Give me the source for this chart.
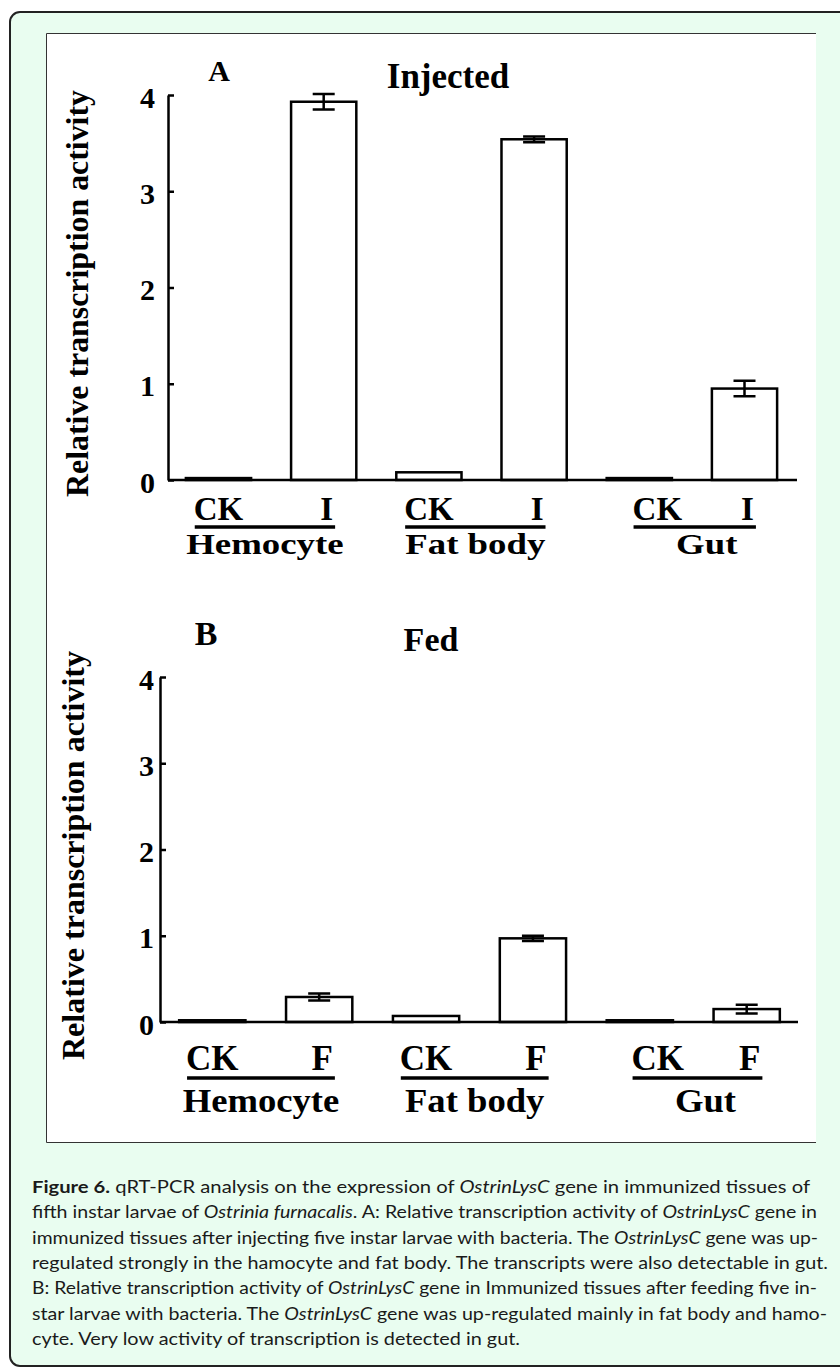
<!DOCTYPE html>
<html>
<head>
<meta charset="utf-8">
<script src="https://cdn.jsdelivr.net/npm/d3@7"></script>
<style>
  body { margin: 0; background: #fff; }
  svg { display: block; }
</style>
</head>
<body>
<div id="chart"></div>
<script>
// data
const tissues = ['Hemocyte', 'Fat body', 'Gut']
const injectedConditions = ['CK', 'I']
const fedConditions = ['CK', 'F']
const injectedValues = [0.02, 3.93, 0.08, 3.54, 0.02, 0.95]
const injectedErrors = [0, 0.08, 0, 0.03, 0, 0.08]
const fedValues = [0.02, 0.29, 0.07, 0.97, 0.02, 0.15]
const fedErrors = [0, 0.04, 0, 0.03, 0, 0.05]
const yTicks = [0, 1, 2, 3, 4]
const yLabel = 'Relative transcription activity'

const captionLines = [
  [['b', 'Figure 6.'], ['', ' qRT-PCR analysis on the expression of '], ['i', 'OstrinLysC'], ['', ' gene in immunized tissues of']],
  [['', 'fifth instar larvae of '], ['i', 'Ostrinia furnacalis'], ['', '. A: Relative transcription activity of '], ['i', 'OstrinLysC'], ['', ' gene in']],
  [['', 'immunized tissues after injecting five instar larvae with bacteria. The '], ['i', 'OstrinLysC'], ['', ' gene was up-']],
  [['', 'regulated strongly in the hamocyte and fat body. The transcripts were also detectable in gut.']],
  [['', 'B: Relative transcription activity of '], ['i', 'OstrinLysC'], ['', ' gene in Immunized tissues after feeding five in-']],
  [['', 'star larvae with bacteria. The '], ['i', 'OstrinLysC'], ['', ' gene was up-regulated mainly in fat body and hamo-']],
  [['', 'cyte. Very low activity of transcription is detected in gut.']]
]
const captionEnds = [810, 817, 818, 828, 817, 827, 520]

const serif = '"Liberation Serif", "Times New Roman", serif'

const svg = d3
  .select('#chart')
  .append('svg')
  .attr('width', 840)
  .attr('height', 1372)

// outer rounded box
svg
  .append('rect')
  .attr('x', 10)
  .attr('y', 12)
  .attr('width', 860)
  .attr('height', 1354)
  .attr('rx', 10)
  .attr('fill', '#e9fdf0')
  .attr('stroke', '#222')
  .attr('stroke-width', 2)

// white figure area
svg
  .append('rect')
  .attr('x', 46)
  .attr('y', 33)
  .attr('width', 770)
  .attr('height', 1110)
  .attr('fill', '#fff')
svg
  .append('path')
  .attr('d', 'M816,33.5H46.5V1142.5H816')
  .attr('fill', 'none')
  .attr('stroke', '#333')
  .attr('stroke-width', 1)

const panels = [
  {
    conditions: injectedConditions,
    values: injectedValues,
    errors: injectedErrors,
    letter: 'A',
    title: 'Injected',
    axisX: 168, band: [168, 795], axisEnd: 797, top: 95, bottom: 480,
    tickPad: 13, labelY: 40, labelSize: 33, lineY: 47,
    groupY: 74, groupSize: 29, stretch: 1.27, gutShift: 12,
    yTitleX: 88, yTitleLen: 407,
    letterX: 219, letterY: 81, letterSize: 30,
    titleX: 448, titleY: 88, titleSize: 35
  },
  {
    conditions: fedConditions,
    values: fedValues,
    errors: fedErrors,
    letter: 'B',
    title: 'Fed',
    axisX: 160, band: [161, 798], axisEnd: 798, top: 677, bottom: 1022,
    tickPad: 6, labelY: 48, labelSize: 35, lineY: 56,
    groupY: 90, groupSize: 33, stretch: 1.11, gutShift: 8,
    yTitleX: 84, yTitleLen: 409,
    letterX: 206, letterY: 645, letterSize: 34,
    titleX: 431, titleY: 651, titleSize: 34
  }
]

panels.forEach(drawPanel)

function drawPanel(p) {
  const g = svg.append('g')
  const keys = d3.cross(tissues, p.conditions).map(d => d.join('|'))
  const rows = keys.map((k, i) => ({
    key: k,
    tissue: k.split('|')[0],
    cond: k.split('|')[1],
    value: p.values[i],
    error: p.errors[i]
  }))

  const x = d3
    .scaleBand()
    .domain(keys)
    .range(p.band)
    .paddingInner(0.38)
    .paddingOuter(0.17)
  const y = d3
    .scaleLinear()
    .domain([0, 4])
    .range([p.bottom, p.top])

  // bars
  g.selectAll('.bar')
    .data(rows)
    .enter()
    .append('rect')
    .attr('x', d => x(d.key))
    .attr('y', d => y(d.value))
    .attr('width', x.bandwidth())
    .attr('height', d => y(0) - y(d.value))
    .attr('fill', '#fff')
    .attr('stroke', '#000')
    .attr('stroke-width', 2.5)

  // error bars
  const errRows = rows.filter(d => d.error > 0)
  const cx = d => x(d.key) + x.bandwidth() / 2
  g.selectAll('.err')
    .data(errRows)
    .enter()
    .append('path')
    .attr('d', d => {
      const y1 = y(d.value + d.error)
      const y2 = y(d.value - d.error)
      return `M${cx(d)},${y1}V${y2}M${cx(d) - 11},${y1}H${cx(d) + 11}M${cx(d) - 11},${y2}H${cx(d) + 11}`
    })
    .attr('fill', 'none')
    .attr('stroke', '#000')
    .attr('stroke-width', 2.5)

  // y axis
  const yAxis = d3
    .axisLeft(y)
    .tickValues(yTicks)
    .tickFormat(d3.format('d'))
    .tickSizeInner(-6)
    .tickSizeOuter(0)
    .tickPadding(p.tickPad)
  const ax = g
    .append('g')
    .attr('transform', `translate(${p.axisX},0)`)
    .call(yAxis)
  ax.select('.domain').attr('stroke', '#000').attr('stroke-width', 2.5)
  ax.selectAll('.tick line').attr('stroke', '#000').attr('stroke-width', 2.5)
  ax.selectAll('.tick text')
    .attr('font-family', serif)
    .attr('font-weight', 'bold')
    .attr('font-size', 30)
    .attr('fill', '#000')
    .attr('dy', '0.4em')

  // x axis line
  g.append('line')
    .attr('x1', p.axisX)
    .attr('x2', p.axisEnd)
    .attr('y1', y(0))
    .attr('y2', y(0))
    .attr('stroke', '#000')
    .attr('stroke-width', 2.5)

  // y title
  g.append('text')
    .attr('transform', `translate(${p.yTitleX},${(p.top + p.bottom) / 2 + 6}) rotate(-90)`)
    .attr('text-anchor', 'middle')
    .attr('font-family', serif)
    .attr('font-weight', 'bold')
    .attr('font-size', 32)
    .attr('textLength', p.yTitleLen)
    .attr('lengthAdjust', 'spacingAndGlyphs')
    .text(yLabel)

  // panel letter + title
  g.append('text')
    .attr('x', p.letterX)
    .attr('y', p.letterY)
    .attr('text-anchor', 'middle')
    .attr('font-family', serif)
    .attr('font-weight', 'bold')
    .attr('font-size', p.letterSize)
    .text(p.letter)
  g.append('text')
    .attr('x', p.titleX)
    .attr('y', p.titleY)
    .attr('text-anchor', 'middle')
    .attr('font-family', serif)
    .attr('font-weight', 'bold')
    .attr('font-size', p.titleSize)
    .text(p.title)

  // condition labels, underline and tissue label
  tissues.forEach(t => {
    const sub = rows.filter(d => d.tissue === t)
    const shift = t === 'Gut' ? 18 : 0
    const labels = sub.map((d, i) =>
      g.append('text')
        .attr('x', cx(d) + (i === 0 ? shift : 3))
        .attr('y', y(0) + p.labelY)
        .attr('text-anchor', 'middle')
        .attr('font-family', serif)
        .attr('font-weight', 'bold')
        .attr('font-size', p.labelSize)
        .text(d.cond)
    )
    const b0 = labels[0].node().getBBox()
    const b1 = labels[1].node().getBBox()
    const lx0 = b0.x + 1
    const lx1 = b1.x + b1.width + 2
    g.append('line')
      .attr('x1', lx0)
      .attr('x2', lx1)
      .attr('y1', y(0) + p.lineY)
      .attr('y2', y(0) + p.lineY)
      .attr('stroke', '#000')
      .attr('stroke-width', 3.5)
    const gl = g.append('text')
      .attr('x', (lx0 + lx1) / 2 + (t === 'Gut' ? p.gutShift : 0))
      .attr('y', y(0) + p.groupY)
      .attr('text-anchor', 'middle')
      .attr('font-family', serif)
      .attr('font-weight', 'bold')
      .attr('font-size', p.groupSize)
      .attr('lengthAdjust', 'spacingAndGlyphs')
      .text(t)
    const w = gl.node().getComputedTextLength()
    gl.attr('textLength', w * p.stretch)
  })
}

// caption
const cap = svg.append('g')
captionLines.forEach((parts, i) => {
  const t = cap
    .append('text')
    .attr('x', 32)
    .attr('y', 1193 + i * 25.3)
    .attr('font-family', '"Gill Sans", Lato, sans-serif')
    .attr('font-size', 17.5)
    .attr('fill', '#1a1a1a')
    .attr('textLength', captionEnds[i] - 32)
    .attr('lengthAdjust', 'spacingAndGlyphs')
  parts.forEach(([style, str]) => {
    t.append('tspan')
      .attr('font-weight', style === 'b' ? 'bold' : null)
      .attr('font-style', style === 'i' ? 'italic' : null)
      .text(str)
  })
})
</script>
</body>
</html>
